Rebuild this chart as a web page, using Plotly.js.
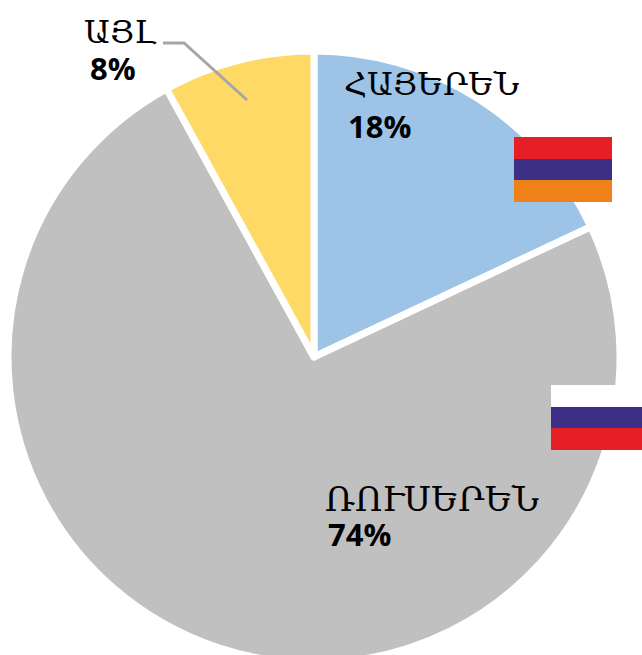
<!DOCTYPE html>
<html><head><meta charset="utf-8"><script src="https://cdn.plot.ly/plotly-3.0.1.min.js"></script>
<style>html,body{margin:0;padding:0;background:#fff;overflow:hidden;width:642px;height:655px}</style></head><body><div id="c" style="width:642px;height:655px;overflow:hidden"></div>
<script>
const labels=['ՀԱՅԵՐԵՆ','ՌՈՒՍԵՐԵՆ','ԱՅԼ'];
const values=[18,74,8];
const colors=['#9DC3E6','#C0C0C0','#FFD966'];
const pctLabels=['18%','74%','8%'];
const W=642,H=680;
const cx=314,cy=357,R=306;
const F='"DejaVu Serif"';
const px=x=>x/W, py=y=>1-y/H;
const ann=[
 {x:px(342),y:py(84),text:labels[0],size:32,weight:400},
 {x:px(346),y:py(126),text:pctLabels[0],size:31,weight:700},
 {x:px(323),y:py(499),text:labels[1],size:34,weight:400},
 {x:px(326),y:py(534),text:pctLabels[1],size:31,weight:700},
 {x:px(82),y:py(32),text:labels[2],size:32,weight:400},
 {x:px(88),y:py(68),text:pctLabels[2],size:31,weight:700}
].map(a=>({xref:'paper',yref:'paper',x:a.x,y:a.y,xanchor:'left',yanchor:'middle',showarrow:false,text:a.weight===700?'<b>'+a.text+'</b>':a.text,font:{family:a.weight===700?'"Open Sans"':F,size:a.size,color:'#000'}}));
const rect=(x0,y0,x1,y1,c)=>({type:'rect',xref:'paper',yref:'paper',x0:px(x0),x1:px(x1),y0:py(y0),y1:py(y1),fillcolor:c,line:{width:0}});
const shapes=[
 rect(514,137,612,159,'#E61E25'),rect(514,159,612,180,'#3C2F85'),rect(514,180,612,202,'#F08119'),
 rect(551,385,642,407,'#FFFFFF'),rect(551,407,642,428,'#3C2F85'),rect(551,428,642,450,'#E61E25'),
 {type:'path',xref:'paper',yref:'paper',path:`M ${px(163)} ${py(43)} L ${px(184)} ${py(43)} L ${px(247)} ${py(100)}`,line:{color:'#A6A6A6',width:3}}
];
Plotly.newPlot('c',[{type:'pie',labels:labels,values:values,sort:false,direction:'clockwise',rotation:0,textinfo:'none',hoverinfo:'label+percent',
 marker:{colors:colors,line:{color:'#fff',width:7}},domain:{x:[(cx-R)/W,(cx+R)/W],y:[1-(cy+R)/H,1-(cy-R)/H]},showlegend:false}],
 {width:W,height:H,margin:{l:0,r:0,t:0,b:0},paper_bgcolor:'#fff',showlegend:false,annotations:ann,shapes:shapes},{displayModeBar:false});
</script></body></html>
